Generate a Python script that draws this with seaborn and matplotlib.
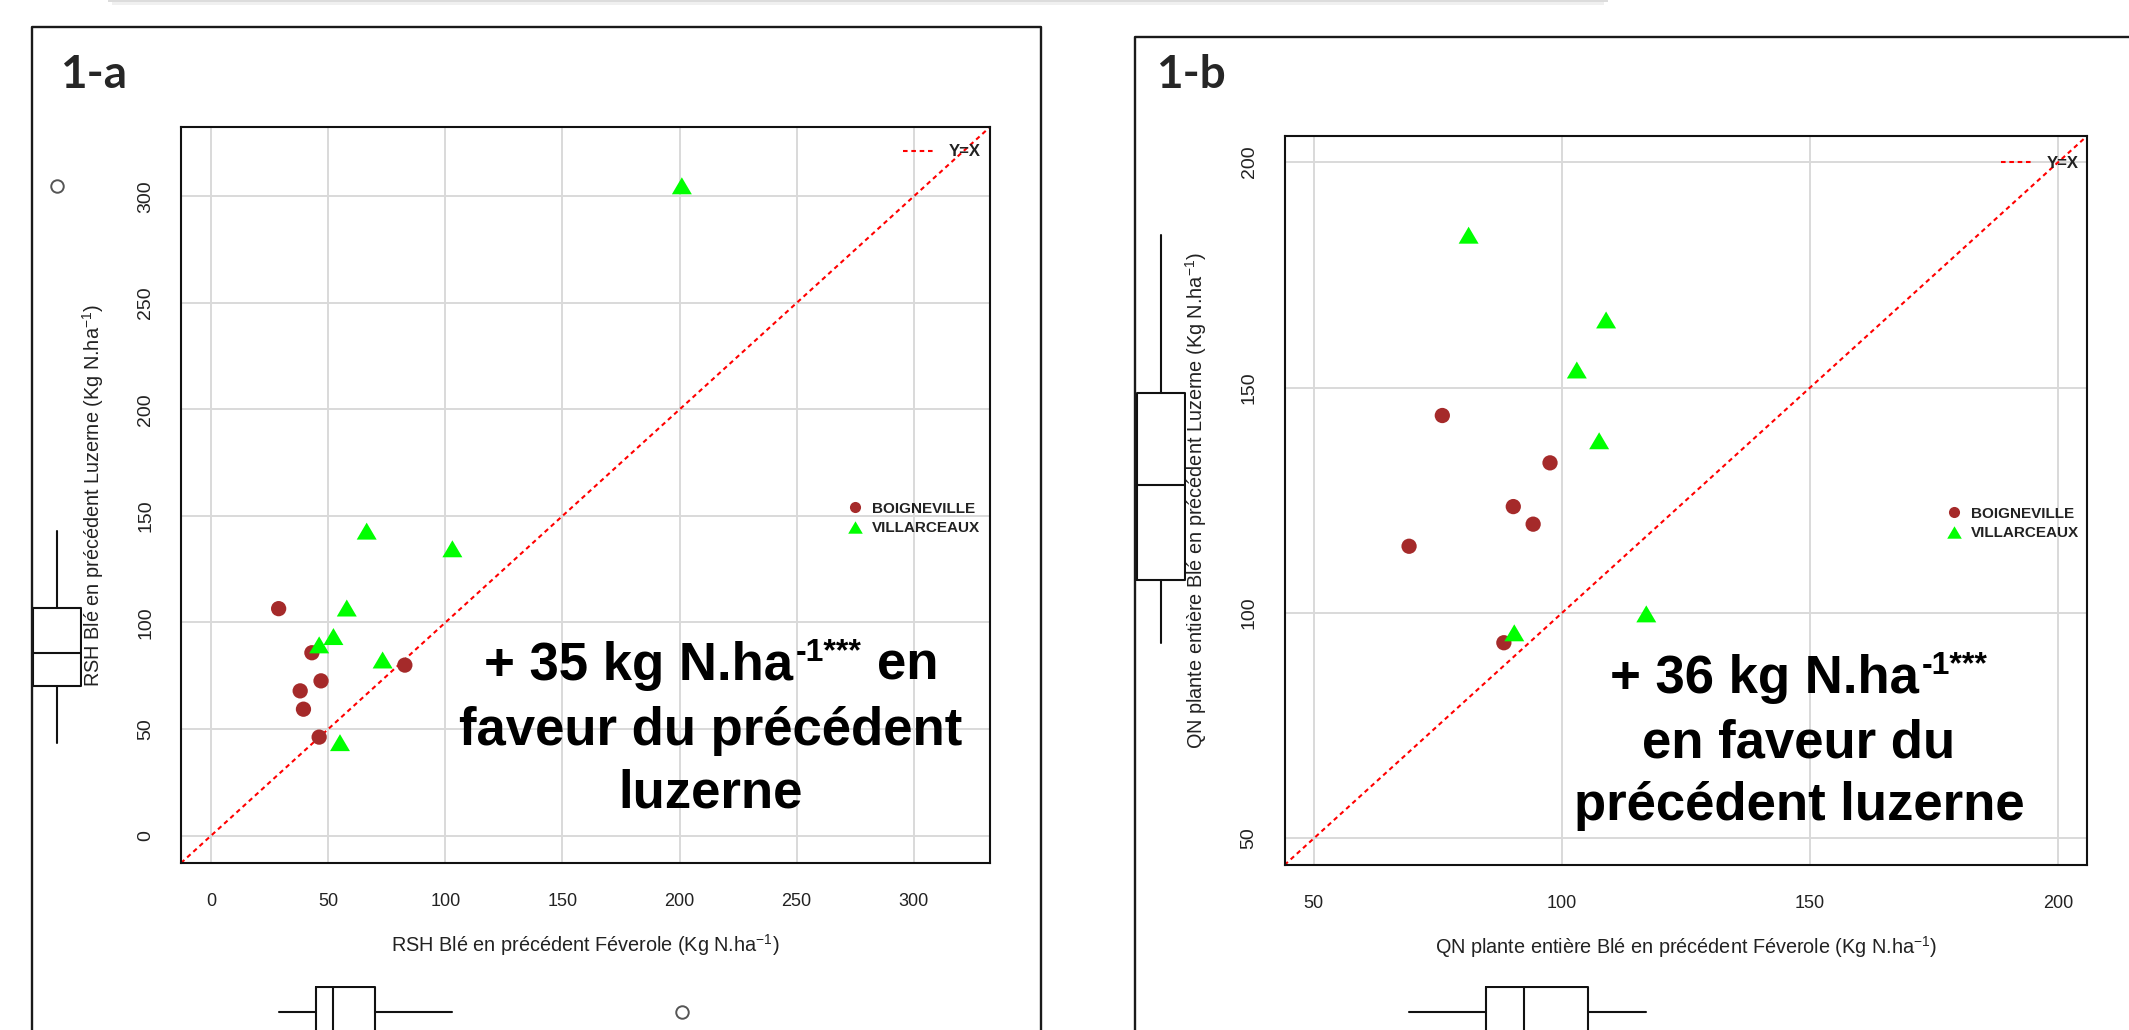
import numpy as np
import pandas as pd
import matplotlib
matplotlib.use("Agg")
import matplotlib.pyplot as plt
import seaborn as sns
from matplotlib.lines import Line2D
from matplotlib.patches import Rectangle
from matplotlib.transforms import offset_copy

# ---------------- data ----------------
sites = ["BOIGNEVILLE", "VILLARCEAUX"]
site_colors = ["#A52A2A", "#00FF00"]

# 1-a : RSH (Kg N/ha)
rsh_boig_fev = [28.8, 43.0, 46.9, 38.0, 39.4, 46.1, 82.7]
rsh_boig_luz = [106.5, 85.8, 72.6, 67.9, 59.3, 46.2, 80.0]
rsh_vill_fev = [66.4, 103.0, 57.9, 52.2, 46.1, 73.2, 55.0, 201.0]
rsh_vill_luz = [142.9, 134.6, 106.8, 93.4, 89.5, 82.4, 43.6, 305.0]

# 1-b : QN plante entiere (Kg N/ha)
qn_boig_fev = [75.9, 97.6, 90.2, 94.2, 69.2, 88.3]
qn_boig_luz = [143.8, 133.3, 123.6, 119.7, 114.8, 93.4]
qn_vill_fev = [81.2, 108.9, 103.0, 107.5, 117.0, 90.4]
qn_vill_luz = [183.8, 165.0, 153.9, 138.2, 99.8, 95.6]

ticks_a = [0, 50, 100, 150, 200, 250, 300]
ticks_b = [50, 100, 150, 200]
lims_a = (-12.9, 332.6)
lims_b = (44.1, 205.8)

xlabel_a = r"RSH Blé en précédent Féverole (Kg N.ha$^{-1}$)"
ylabel_a = r"RSH Blé en précédent Luzerne (Kg N.ha$^{-1}$)"
xlabel_b = r"QN plante entière Blé en précédent Féverole (Kg N.ha$^{-1}$)"
ylabel_b = r"QN plante entière Blé en précédent Luzerne (Kg N.ha$^{-1}$)"
# each line: list of (text, is_superscript)
note_a = [[("+ 35 kg N.ha", False), ("-1***", True), ("en", False)],
          [("faveur du précédent", False)],
          [("luzerne", False)]]
note_b = [[("+ 36 kg N.ha", False), ("-1***", True)],
          [("en faveur du", False)],
          [("précédent luzerne", False)]]
legend_line_label = "Y=X"

# ---------------- style ----------------
sns.set_theme(style="white")
plt.rcParams["font.family"] = ["Liberation Sans", "DejaVu Sans"]
plt.rcParams["mathtext.fontset"] = "custom"
plt.rcParams["mathtext.rm"] = "Liberation Sans"
plt.rcParams["mathtext.it"] = "Liberation Sans:italic"
plt.rcParams["mathtext.bf"] = "Liberation Sans:bold"

W, H = 2129, 1030
fig = plt.figure(figsize=(W / 100, H / 100), dpi=100)
fig.patch.set_facecolor("white")
renderer = fig.canvas.get_renderer()


def rect(x0, y0, x1, y1):
    return [x0 / W, 1 - y1 / H, (x1 - x0) / W, (y1 - y0) / H]


def r_box_stats(vals):
    v = np.sort(np.asarray(vals, float))
    n = len(v)
    n4 = np.floor((n + 3) / 2) / 2
    d = np.array([1, n4, (n + 1) / 2, n + 1 - n4, n])
    fn = 0.5 * (v[np.floor(d).astype(int) - 1] + v[np.ceil(d).astype(int) - 1])
    q1, med, q3 = fn[1], fn[2], fn[3]
    iqr = q3 - q1
    lo = v[v >= q1 - 1.5 * iqr].min()
    hi = v[v <= q3 + 1.5 * iqr].max()
    fl = v[(v < lo) | (v > hi)]
    return dict(med=med, q1=q1, q3=q3, whislo=lo, whishi=hi, fliers=fl)


tri = [(0, 0.85), (-1, -0.85), (1, -0.85)]
marker_map = {sites[0]: "o", sites[1]: tri}
size_map = {sites[0]: 121, sites[1]: 207}
pal = dict(zip(sites, site_colors))

# faint shadow at top of slide
fig.add_artist(Rectangle((108 / W, 1 - 2 / H), 1500 / W, 2 / H, transform=fig.transFigure,
                         color="#dcdcdc", lw=0))
fig.add_artist(Rectangle((112 / W, 1 - 5 / H), 1492 / W, 3 / H, transform=fig.transFigure,
                         color="#f0f0f0", lw=0))


def frame(x0, y0, x1, closed_right):
    xs = [x0, x0, x1] + ([x1] if closed_right else [])
    ys = [H + 5, y0, y0] + ([H + 5] if closed_right else [])
    fig.add_artist(Line2D([x / W for x in xs], [1 - y / H for y in ys],
                          transform=fig.transFigure, color="#1a1a1a", lw=1.7))


frame(32, 27, 1041, True)
frame(1135, 37, W + 5, False)

fig.text(60 / W, 1 - 88 / H, "1-a", fontsize=33, fontweight="bold",
         family=["Lato", "DejaVu Sans"], ha="left", va="baseline")
fig.text(1156 / W, 1 - 88 / H, "1-b", fontsize=33, fontweight="bold",
         family=["Lato", "DejaVu Sans"], ha="left", va="baseline")

BIG = 38
SUP = 23
SUP_RISE = 19
SPACE = 0.278 * BIG * 100 / 72


def rich_line(ax, xc, yb, segs):
    objs = []
    for i, (s, sup) in enumerate(segs):
        t = ax.text(xc, yb, s, transform=ax.transAxes, ha="left", va="baseline",
                    fontsize=SUP if sup else BIG, fontweight="bold", color="black",
                    zorder=5)
        gap = 0 if i == 0 else (3 if sup else SPACE)
        objs.append((t, SUP_RISE if sup else 0, gap))
    widths = [t.get_window_extent(renderer).width for t, _, _ in objs]
    total = sum(widths) + sum(g for _, _, g in objs)
    x = -total / 2
    for (t, rise, gap), w in zip(objs, widths):
        x += gap
        t.set_transform(offset_copy(ax.transAxes, fig=fig, x=x, y=rise, units="dots"))
        x += w


def panel(main_px, ybox_px, xbox_px, fev_b, luz_b, fev_v, luz_v, ticks, lims,
          xlab, ylab, xlab_y, ylab_x, notes, note_x, note_ys, yx_leg, site_leg):
    ax = fig.add_axes(rect(*main_px))
    df = pd.DataFrame({
        "site": [sites[0]] * len(fev_b) + [sites[1]] * len(fev_v),
        "fev": list(fev_b) + list(fev_v),
        "luz": list(luz_b) + list(luz_v),
    })
    ax.axline((lims[0], lims[0]), slope=1, color="red", lw=1.5,
              ls=(0, (2.2, 1.8)), zorder=2)
    sns.scatterplot(data=df, x="fev", y="luz", hue="site", style="site", size="site",
                    hue_order=sites, style_order=sites, size_order=sites,
                    palette=pal, markers=marker_map, sizes=size_map,
                    linewidth=0, legend=False, ax=ax, zorder=3)
    ax.set_xlim(lims)
    ax.set_ylim(lims)
    ax.set_xticks(ticks)
    ax.set_yticks(ticks)
    ax.grid(True, color="#d9d9d9", lw=1.4)
    ax.set_axisbelow(True)
    for s in ax.spines.values():
        s.set_color("#111111")
        s.set_linewidth(1.5)
    ax.tick_params(axis="both", direction="out", length=9.4, width=1.3, color="#111111",
                   labelcolor="#222222")
    ax.tick_params(axis="x", pad=12, labelsize=13)
    ax.tick_params(axis="y", pad=10, labelrotation=90, labelsize=14)
    for t in ax.get_yticklabels():
        t.set_va("center")
    ax.set_xlabel(xlab, fontsize=14.3, color="#222222")
    ax.set_ylabel(ylab, fontsize=14.3, color="#222222")
    ax.xaxis.set_label_coords(0.5, xlab_y)
    ax.xaxis.label.set_va("center")
    ax.yaxis.set_label_coords(ylab_x, 0.5)
    ax.yaxis.label.set_va("center")

    for segs, y in zip(notes, note_ys):
        rich_line(ax, note_x, y, segs)

    # legends
    h_line = [Line2D([], [], color="red", lw=1.5, ls=(0, (2.2, 1.8)))]
    leg1 = fig.legend(h_line, [legend_line_label], loc="center left",
                      bbox_to_anchor=(yx_leg[0] / W, 1 - yx_leg[1] / H),
                      bbox_transform=fig.transFigure, frameon=False, borderpad=0,
                      borderaxespad=0, handlelength=1.9, handletextpad=0.85,
                      prop={"size": 12, "weight": "bold"})
    for t in leg1.get_texts():
        t.set_color("#222222")
    h_sites = [Line2D([], [], ls="", marker="o", ms=8, color=site_colors[0], mew=0),
               Line2D([], [], ls="", marker=tri, ms=10.5, color=site_colors[1], mew=0)]
    leg2 = fig.legend(h_sites, sites, loc="center left",
                      bbox_to_anchor=(site_leg[0] / W, 1 - site_leg[1] / H),
                      bbox_transform=fig.transFigure, frameon=False, borderpad=0,
                      borderaxespad=0, handlelength=1.0, handletextpad=0.62,
                      labelspacing=0.38, prop={"size": 11, "weight": "bold"})
    for t in leg2.get_texts():
        t.set_color("#222222")

    # marginal boxplots
    box_kw = dict(showcaps=False, patch_artist=False, widths=0.96,
                  boxprops=dict(color="#111111", lw=1.5),
                  whiskerprops=dict(color="#111111", lw=1.5),
                  medianprops=dict(color="#111111", lw=1.5),
                  flierprops=dict(marker="o", markersize=9, markerfacecolor="none",
                                  markeredgecolor="#555555", markeredgewidth=1.4))
    allx = list(fev_b) + list(fev_v)
    ally = list(luz_b) + list(luz_v)
    axy = fig.add_axes(rect(*ybox_px))
    axy.bxp([r_box_stats(ally)], positions=[0], orientation="vertical", **box_kw)
    axy.set_ylim(lims)
    axy.set_xlim(-0.5, 0.5)
    axy.axis("off")
    axx = fig.add_axes(rect(*xbox_px))
    axx.bxp([r_box_stats(allx)], positions=[0], orientation="horizontal", **box_kw)
    axx.set_xlim(lims)
    axx.set_ylim(0.5, -0.5)
    axx.axis("off")
    return ax


# panel 1-a
main_a = (181, 127, 990, 863)
panel(main_a, (32, 127, 82, 863), (181, 985.7, 990, 1037.7),
      rsh_boig_fev, rsh_boig_luz, rsh_vill_fev, rsh_vill_luz, ticks_a, lims_a,
      xlabel_a, ylabel_a, (863 - 945) / 736, (93 - 181) / 809,
      note_a, (711 - 181) / 809,
      [(863 - 680) / 736, (863 - 745) / 736, (863 - 808) / 736],
      (903, 152), (847.5, 518.5))

# panel 1-b
main_b = (1284.5, 136, 2087, 865)
panel(main_b, (1136, 136, 1186, 865), (1284.5, 986.3, 2087, 1038.3),
      qn_boig_fev, qn_boig_luz, qn_vill_fev, qn_vill_luz, ticks_b, lims_b,
      xlabel_b, ylabel_b, (865 - 946.7) / 729, (1196 - 1284.5) / 802.5,
      note_b, (1799 - 1284.5) / 802.5,
      [(865 - 693) / 729, (865 - 758) / 729, (865 - 820) / 729],
      (2001, 163), (1946.5, 523.5))

fig.savefig("out.png", dpi=100, facecolor="white")
